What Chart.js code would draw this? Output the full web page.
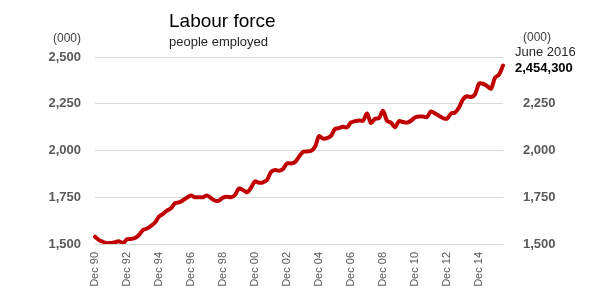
<!DOCTYPE html>
<html>
<head>
<meta charset="utf-8">
<script src="https://cdn.jsdelivr.net/npm/chart.js@4"></script>
<style>
html,body{margin:0;padding:0;background:#fff;}
#wrap{position:relative;width:600px;height:300px;}
canvas{display:block;}
</style>
</head>
<body>
<div id="wrap"><canvas id="c" width="600" height="300"></canvas></div>
<script>
// Quarterly categories, Dec 1990 .. Jun 2016
const months = ["Dec", "Mar", "Jun", "Sep"];
const startYear = 90;
const employed = [
  1539, 1521, 1512, 1504, 1506, 1510, 1515, 1505, 1525, 1527,
  1532, 1548, 1575, 1583, 1597, 1615, 1647, 1661, 1679, 1691,
  1718, 1722, 1734, 1748, 1759, 1750, 1750, 1750, 1760, 1745,
  1732, 1732, 1748, 1753, 1750, 1762, 1797, 1789, 1776, 1801,
  1835, 1828, 1830, 1842, 1885, 1896, 1892, 1901, 1931, 1931,
  1938, 1966, 1993, 1995, 1998, 2020, 2077, 2064, 2066, 2078,
  2115, 2120, 2127, 2124, 2150, 2157, 2161, 2159, 2198, 2147,
  2170, 2173, 2212, 2159, 2149, 2124, 2157, 2152, 2149, 2159,
  2177, 2182, 2182, 2179, 2209, 2198, 2186, 2173, 2170, 2198,
  2203, 2230, 2274, 2290, 2286, 2300, 2357, 2357, 2345, 2330,
  2389, 2406, 2454.3
];
const yTicks = [1500, 1750, 2000, 2250, 2500];
const titleText = "Labour force";
const subtitleText = "people employed";
const unitText = "(000)";
const latestLabel = "June 2016";
const latestValue = "2,454,300";

const categories = employed.map((_, i) => {
  const m = months[i % 4];
  const yr = (startYear + Math.floor((i + 3) / 4)) % 100;
  return m + " " + String(yr).padStart(2, "0");
});

const tickFont = {family: "'Liberation Sans', Arial, sans-serif", size: 13, weight: "bold"};
const fmt = v => v.toLocaleString("en-US");

const textPlugin = {
  id: "texts",
  afterDraw(chart) {
    const ctx = chart.ctx;
    ctx.save();
    ctx.textBaseline = "alphabetic";
    ctx.fillStyle = "#000";
    ctx.font = "19px 'Liberation Sans', Arial, sans-serif";
    ctx.textAlign = "left";
    ctx.fillText(titleText, 169, 27);
    ctx.font = "13px 'Liberation Sans', Arial, sans-serif";
    ctx.fillStyle = "#262626";
    ctx.fillText(subtitleText, 169, 46);
    ctx.fillStyle = "#404040";
    ctx.font = "12px 'Liberation Sans', Arial, sans-serif";
    ctx.textAlign = "right";
    ctx.fillText(unitText, 81, 42);
    ctx.textAlign = "left";
    ctx.fillText(unitText, 523, 41);
    ctx.font = "13px 'Liberation Sans', Arial, sans-serif";
    ctx.fillStyle = "#262626";
    ctx.fillText(latestLabel, 515, 56);
    ctx.font = "bold 13px 'Liberation Sans', Arial, sans-serif";
    ctx.fillStyle = "#000";
    ctx.fillText(latestValue, 515, 72);
    ctx.restore();
  }
};

new Chart(document.getElementById("c"), {
  type: "line",
  data: {
    labels: categories,
    datasets: [{
      data: employed,
      borderColor: "#c00000",
      backgroundColor: "#c00000",
      borderWidth: 4,
      pointRadius: 0,
      tension: 0.3,
      borderCapStyle: "round",
      borderJoinStyle: "round",
      yAxisID: "y"
    }]
  },
  options: {
    responsive: false,
    animation: false,
    devicePixelRatio: 1,
    layout: {padding: {top: 57, left: 0, right: 0, bottom: 0}},
    plugins: {legend: {display: false}, tooltip: {enabled: false}, title: {display: false}},
    scales: {
      x: {
        type: "category",
        offset: false,
        grid: {display: false, drawTicks: false},
        border: {display: false},
        ticks: {
          autoSkip: false,
          minRotation: 90,
          maxRotation: 90,
          padding: 8,
          color: "#595959",
          font: {family: "'Liberation Sans', Arial, sans-serif", size: 11},
          callback: function(v, i) { return i % 8 === 0 ? categories[i] : ""; }
        },
        afterFit(s) { s.height = 56; }
      },
      y: {
        position: "left",
        min: yTicks[0],
        max: yTicks[yTicks.length - 1],
        afterBuildTicks(s) { s.ticks = yTicks.map(v => ({value: v})); },
        grid: {color: "#d9d9d9", lineWidth: 1, drawTicks: false},
        border: {display: false},
        ticks: {color: "#595959", font: tickFont, padding: 14, callback: v => fmt(v)},
        afterFit(s) { s.width = 95; }
      },
      y2: {
        position: "right",
        min: yTicks[0],
        max: yTicks[yTicks.length - 1],
        afterBuildTicks(s) { s.ticks = yTicks.map(v => ({value: v})); },
        grid: {display: false, drawTicks: false},
        border: {display: false},
        ticks: {color: "#595959", font: tickFont, padding: 20, callback: v => v === 2500 ? "" : fmt(v)},
        afterFit(s) { s.width = 97; }
      }
    }
  },
  plugins: [textPlugin]
});
</script>
</body>
</html>
